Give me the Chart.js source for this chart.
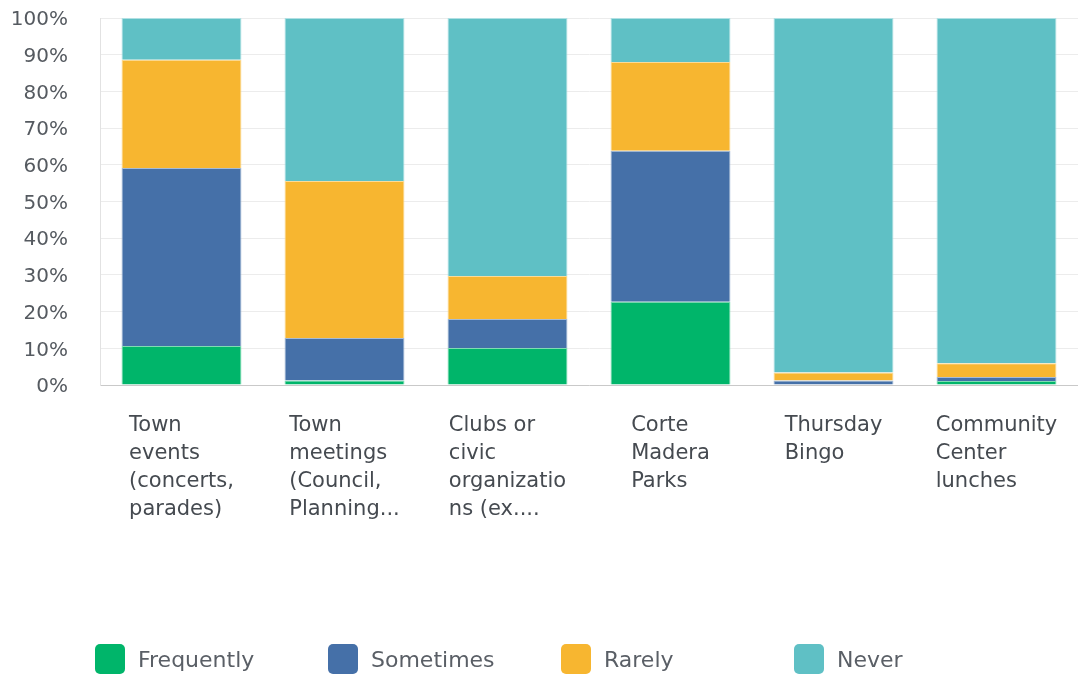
<!DOCTYPE html>
<html>
<head>
<meta charset="utf-8">
<script src="https://cdn.jsdelivr.net/npm/chart.js@4.4.1/dist/chart.umd.min.js"></script>
<style>
    html, body { margin: 0; padding: 0; background: #fff; }
    #wrap { position: relative; width: 1078px; height: 677px; }
    #legend {
        position: absolute; left: 95px; top: 644px; display: flex;
        font-family: 'DejaVu Sans', sans-serif; font-size: 22px; color: #5a5f66;
    }
    .item { width: 233px; height: 30px; display: flex; align-items: center; }
    .swatch { width: 30px; height: 30px; border-radius: 5px; margin-right: 13px; }
</style>
</head>
<body>
<div id="wrap">
    <canvas id="chart" width="1078" height="677"></canvas>
    <div id="legend"></div>
</div>
<script>
const categories = [
    ['Town', 'events', '(concerts,', 'parades)'],
    ['Town', 'meetings', '(Council,', 'Planning...'],
    ['Clubs or', 'civic', 'organizatio', 'ns (ex....'],
    ['Corte', 'Madera', 'Parks'],
    ['Thursday', 'Bingo'],
    ['Community', 'Center', 'lunches']
];
const frequently = [10.6, 1.2, 10.1, 22.7, 0, 1.1];
const sometimes  = [48.5, 11.6, 7.9, 41.1, 1.2, 1.1];
const rarely     = [29.5, 42.8, 11.7, 24.2, 2.2, 3.7];
const never      = [11.4, 44.4, 70.3, 12.0, 96.6, 94.1];
const yTicks = [0, 10, 20, 30, 40, 50, 60, 70, 80, 90, 100];

const series = [
    { label: 'Frequently', data: frequently, color: '#00b56a', edge: '#7fdcb3' },
    { label: 'Sometimes',  data: sometimes,  color: '#4570a8', edge: '#a6bbd6' },
    { label: 'Rarely',     data: rarely,     color: '#f7b630', edge: '#fbdb97' },
    { label: 'Never',      data: never,      color: '#5fc0c5', edge: '#b0e0e3' }
];

const FONT = '"DejaVu Sans", sans-serif';

// multi-line category labels: lines left-aligned, block centred under the bar
const wrappedLabels = {
    id: 'wrappedLabels',
    afterDraw(chart) {
        const { ctx } = chart;
        const x = chart.scales.x;
        ctx.save();
        ctx.font = '21px ' + FONT;
        ctx.fillStyle = '#454a50';
        ctx.textAlign = 'left';
        ctx.textBaseline = 'middle';
        categories.forEach((lines, i) => {
            const w = Math.max(...lines.map(l => ctx.measureText(l).width));
            const left = x.getPixelForValue(i) - w / 2;
            lines.forEach((line, j) => ctx.fillText(line, left, x.top + 41 + j * 28));
        });
        ctx.restore();
    }
};

const chart = new Chart(document.getElementById('chart'), {
    type: 'bar',
    data: {
        labels: categories.map(c => c.join(' ')),
        datasets: series.map(s => ({
            label: s.label,
            data: s.data,
            backgroundColor: s.color,
            borderColor: s.edge,
            borderWidth: 1,
            barPercentage: 0.736,
            categoryPercentage: 1
        }))
    },
    options: {
        responsive: false,
        devicePixelRatio: 1,
        animation: false,
        layout: { padding: { top: 18, right: 0, left: 0, bottom: 0 } },
        plugins: { legend: { display: false }, tooltip: { enabled: false } },
        scales: {
            x: {
                stacked: true,
                grid: { display: false },
                border: { display: true, color: '#c9c9c9' },
                ticks: { display: false },
                afterFit(s) { s.height = 292; }
            },
            y: {
                stacked: true,
                min: 0,
                max: 100,
                afterBuildTicks(s) { s.ticks = yTicks.map(v => ({ value: v })); },
                grid: { color: '#ececec', drawTicks: false },
                border: { display: true, color: '#e2e2e2' },
                ticks: {
                    padding: 32,
                    labelOffset: 2,
                    color: '#555a60',
                    font: { family: FONT, size: 20 },
                    callback: v => v + '%'
                },
                afterFit(s) {
                    s.width = 100;
                    s.paddingTop = 0;
                    s.paddingBottom = 0;
                }
            }
        }
    },
    plugins: [wrappedLabels]
});

document.getElementById('legend').innerHTML = series.map(s => `
    <div class="item"><span class="swatch" style="background:${s.color}"></span>${s.label}</div>
`).join('');
</script>
</body>
</html>
